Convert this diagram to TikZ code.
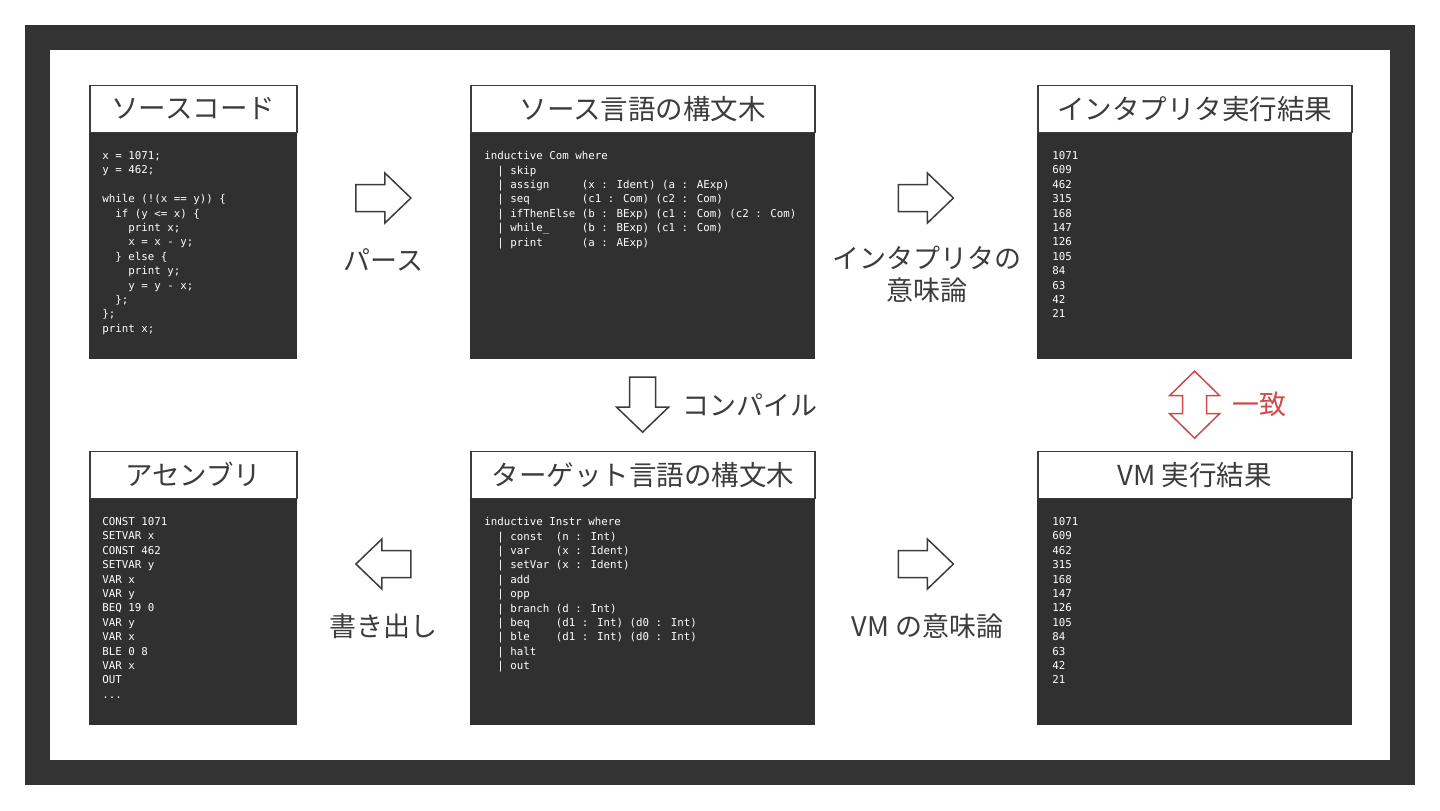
\documentclass[tikz,border=0pt]{standalone}
\usepackage{fontspec}
\newfontfamily\jpfont{Noto Sans CJK JP}
\newfontfamily\codefont{DejaVu Sans Mono}
\usetikzlibrary{calc}
\definecolor{framedark}{HTML}{333333}
\definecolor{codebg}{HTML}{303030}
\definecolor{inkgray}{HTML}{3C3C3C}
\definecolor{matchred}{HTML}{D0484B}
\tikzstyle{codebox}=[rectangle,fill=codebg,draw=codebg,inner sep=0pt,minimum height=112.5pt,anchor=north west]
\tikzstyle{headbox}=[rectangle,draw=inkgray,line width=0.75pt,fill=white,inner sep=0pt,minimum height=23.5pt,anchor=south west,text=inkgray,font=\jpfont\fontsize{13.75}{16}\selectfont]
\tikzstyle{code}=[anchor=north west,inner sep=0pt,align=left,text=white,font=\codefont\fontsize{5.4}{7.2}\selectfont]
\tikzstyle{blockarrow}=[draw=inkgray,line width=0.75pt,fill=white,line join=miter]
\tikzstyle{lbl}=[inner sep=0pt,text=inkgray,align=center,font=\jpfont\fontsize{13.5}{16}\selectfont]

\begin{document}
\begin{tikzpicture}[x=0.5pt,y=-0.5pt]
\useasboundingbox (0,0) rectangle (1440,810);
\fill[white] (0,0) rectangle (1440,810);
\fill[framedark] (25,25) rectangle (1415,785);
\fill[white] (50,50) rectangle (1390,760);

% top row
\node[codebox,minimum width=103.5pt] (srcbody) at (89,133) {};
\node[headbox,minimum width=103.5pt] (srctitle) at (srcbody.north west) {ソースコード};
\node[code] (srccode) at ([shift={(13,18)}]srcbody.north west) {%
x = 1071;\\
y = 462;\\
\mbox{}\\
while (!(x == y)) \{\\
\mbox{}~~if (y <= x) \{\\
\mbox{}~~~~print x;\\
\mbox{}~~~~x = x - y;\\
\mbox{}~~\} else \{\\
\mbox{}~~~~print y;\\
\mbox{}~~~~y = y - x;\\
\mbox{}~~\};\\
\};\\
print x;};

\node[codebox,minimum width=172pt] (srcastbody) at (470,133) {};
\node[headbox,minimum width=172pt] (srcasttitle) at (srcastbody.north west) {ソース言語の構文木};
\node[code] (srcastcode) at ([shift={(14,18)}]srcastbody.north west) {%
inductive Com where\\
\mbox{}~~| skip\\
\mbox{}~~| assign~~~~~(x : Ident) (a : AExp)\\
\mbox{}~~| seq~~~~~~~~(c1 : Com) (c2 : Com)\\
\mbox{}~~| ifThenElse (b : BExp) (c1 : Com) (c2 : Com)\\
\mbox{}~~| while\_~~~~~(b : BExp) (c1 : Com)\\
\mbox{}~~| print~~~~~~(a : AExp)};

\node[codebox,minimum width=157pt] (interpbody) at (1037,133) {};
\node[headbox,minimum width=157pt] (interptitle) at (interpbody.north west) {インタプリタ実行結果};
\node[code] (interpout) at ([shift={(15,18)}]interpbody.north west) {%
1071\\609\\462\\315\\168\\147\\126\\105\\84\\63\\42\\21};

% bottom row
\node[codebox,minimum width=103.5pt] (asmbody) at (89,499) {};
\node[headbox,minimum width=103.5pt] (asmtitle) at (asmbody.north west) {アセンブリ};
\node[code] (asmcode) at ([shift={(13,18)}]asmbody.north west) {%
CONST 1071\\
SETVAR x\\
CONST 462\\
SETVAR y\\
VAR x\\
VAR y\\
BEQ 19 0\\
VAR y\\
VAR x\\
BLE 0 8\\
VAR x\\
OUT\\
...};

\node[codebox,minimum width=172pt] (tgtastbody) at (470,499) {};
\node[headbox,minimum width=172pt] (tgtasttitle) at (tgtastbody.north west) {ターゲット言語の構文木};
\node[code] (tgtastcode) at ([shift={(14,18)}]tgtastbody.north west) {%
inductive Instr where\\
\mbox{}~~| const~~(n : Int)\\
\mbox{}~~| var~~~~(x : Ident)\\
\mbox{}~~| setVar (x : Ident)\\
\mbox{}~~| add\\
\mbox{}~~| opp\\
\mbox{}~~| branch (d : Int)\\
\mbox{}~~| beq~~~~(d1 : Int) (d0 : Int)\\
\mbox{}~~| ble~~~~(d1 : Int) (d0 : Int)\\
\mbox{}~~| halt\\
\mbox{}~~| out};

\node[codebox,minimum width=157pt] (vmbody) at (1037,499) {};
\node[headbox,minimum width=157pt] (vmtitle) at (vmbody.north west) {VM 実行結果};
\node[code] (vmout) at ([shift={(15,18)}]vmbody.north west) {%
1071\\609\\462\\315\\168\\147\\126\\105\\84\\63\\42\\21};

% arrows
\coordinate (parsec) at ($(srcbody.north east)!0.5!(srcastbody.north west)+(0,65)$);
\draw[blockarrow] (parsec) ++(-27.5,-13.5) -- ++(29,0) -- ++(0,-11.5) -- ++(26,25) -- ++(-26,25) -- ++(0,-11.5) -- ++(-29,0) -- cycle;
\node[lbl] (parselbl) at ([shift={(0,62)}]parsec) {パース};

\coordinate (interpc) at ($(srcastbody.north east)!0.5!(interpbody.north west)+(0,65)$);
\draw[blockarrow] (interpc) ++(-27.5,-13.5) -- ++(29,0) -- ++(0,-11.5) -- ++(26,25) -- ++(-26,25) -- ++(0,-11.5) -- ++(-29,0) -- cycle;
\node[lbl] (interplbl) at ([shift={(1.5,76)}]interpc) {インタプリタの\\意味論};

\coordinate (compilec) at ($(srcastbody.south)!0.5!(tgtasttitle.north)$);
\draw[blockarrow] (compilec) ++(-13,-27.5) -- ++(0,30) -- ++(-13,0) -- ++(26,25) -- ++(26,-25) -- ++(-13,0) -- ++(0,-30) -- cycle;
\node[lbl,anchor=west] (compilelbl) at ([shift={(40,0)}]compilec) {コンパイル};

\coordinate (matchc) at ($(interpbody.south)!0.5!(vmtitle.north)$);
\draw[blockarrow,draw=matchred] (matchc) ++(0,-33.5) -- ++(25,24.5) -- ++(-13,0) -- ++(0,18) -- ++(13,0) -- ++(-25,24.5) -- ++(-25,-24.5) -- ++(13,0) -- ++(0,-18) -- ++(-13,0) -- cycle;
\node[lbl,anchor=west,text=matchred] (matchlbl) at ([shift={(38,0)}]matchc) {一致};

\coordinate (writec) at ($(asmbody.north east)!0.5!(tgtastbody.north west)+(0,65)$);
\draw[blockarrow] (writec) ++(27.5,-13.5) -- ++(-29,0) -- ++(0,-11.5) -- ++(-26,25) -- ++(26,25) -- ++(0,-11.5) -- ++(29,0) -- cycle;
\node[lbl] (writelbl) at ([shift={(0,62)}]writec) {書き出し};

\coordinate (vmc) at ($(tgtastbody.north east)!0.5!(vmbody.north west)+(0,65)$);
\draw[blockarrow] (vmc) ++(-27.5,-13.5) -- ++(29,0) -- ++(0,-11.5) -- ++(26,25) -- ++(-26,25) -- ++(0,-11.5) -- ++(-29,0) -- cycle;
\node[lbl] (vmlbl) at ([shift={(1.5,62)}]vmc) {VM の意味論};
\end{tikzpicture}
\end{document}
